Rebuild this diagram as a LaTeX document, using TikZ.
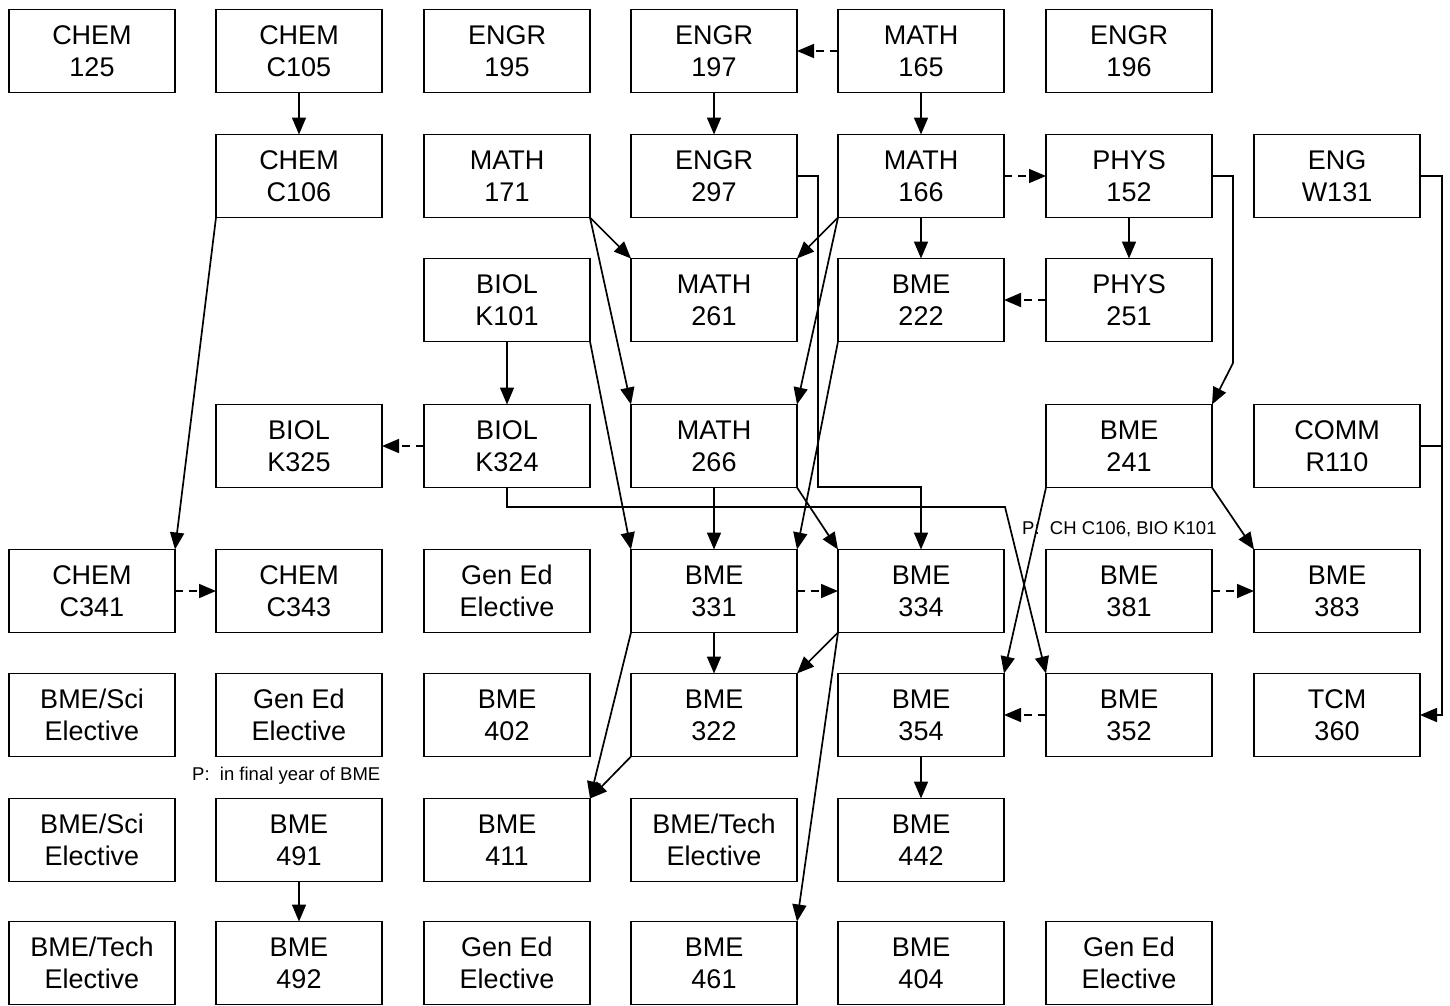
\documentclass[tikz,border=0pt]{standalone}
\usepackage{fontspec}
\setmainfont{Liberation Sans}
\usetikzlibrary{arrows.meta}
\begin{document}
\begin{tikzpicture}[x=1pt,y=-1pt,
  box/.style={draw,line width=1.9pt,minimum width=166pt,minimum height=83pt,inner sep=0pt,outer sep=0pt,align=center,font=\fontsize{27}{32}\selectfont},
  arr/.style={line width=1.7pt,-{Triangle[length=17pt,width=14pt]}},
  darr/.style={arr,dash pattern=on 8pt off 6pt},
  lbl/.style={font=\fontsize{18.5}{20}\selectfont,inner sep=0pt}]
\useasboundingbox (0,0) rectangle (1450,1005);
% row 1
\node[box] (c125) at (92,51) {CHEM\\125};
\node[box] (c105) at (299,51) {CHEM\\C105};
\node[box] (e195) at (507,51) {ENGR\\195};
\node[box] (e197) at (714,51) {ENGR\\197};
\node[box] (m165) at (921,51) {MATH\\165};
\node[box] (e196) at (1129,51) {ENGR\\196};
% row 2
\node[box] (c106) at (299,176) {CHEM\\C106};
\node[box] (m171) at (507,176) {MATH\\171};
\node[box] (e297) at (714,176) {ENGR\\297};
\node[box] (m166) at (921,176) {MATH\\166};
\node[box] (p152) at (1129,176) {PHYS\\152};
\node[box] (w131) at (1337,176) {ENG\\W131};
% row 3
\node[box] (k101) at (507,300) {BIOL\\K101};
\node[box] (m261) at (714,300) {MATH\\261};
\node[box] (b222) at (921,300) {BME\\222};
\node[box] (p251) at (1129,300) {PHYS\\251};
% row 4
\node[box] (k325) at (299,446) {BIOL\\K325};
\node[box] (k324) at (507,446) {BIOL\\K324};
\node[box] (m266) at (714,446) {MATH\\266};
\node[box] (b241) at (1129,446) {BME\\241};
\node[box] (r110) at (1337,446) {COMM\\R110};
% row 5
\node[box] (c341) at (92,591) {CHEM\\C341};
\node[box] (c343) at (299,591) {CHEM\\C343};
\node[box] (ge1) at (507,591) {Gen Ed\\Elective};
\node[box] (b331) at (714,591) {BME\\331};
\node[box] (b334) at (921,591) {BME\\334};
\node[box] (b381) at (1129,591) {BME\\381};
\node[box] (b383) at (1337,591) {BME\\383};
% row 6
\node[box] (se1) at (92,715) {BME/Sci\\Elective};
\node[box] (ge2) at (299,715) {Gen Ed\\Elective};
\node[box] (b402) at (507,715) {BME\\402};
\node[box] (b322) at (714,715) {BME\\322};
\node[box] (b354) at (921,715) {BME\\354};
\node[box] (b352) at (1129,715) {BME\\352};
\node[box] (t360) at (1337,715) {TCM\\360};
% row 7
\node[box] (se2) at (92,840) {BME/Sci\\Elective};
\node[box] (b491) at (299,840) {BME\\491};
\node[box] (b411) at (507,840) {BME\\411};
\node[box] (te1) at (714,840) {BME/Tech\\Elective};
\node[box] (b442) at (921,840) {BME\\442};
% row 8
\node[box] (te2) at (92,963) {BME/Tech\\Elective};
\node[box] (b492) at (299,963) {BME\\492};
\node[box] (ge3) at (507,963) {Gen Ed\\Elective};
\node[box] (b461) at (714,963) {BME\\461};
\node[box] (b404) at (921,963) {BME\\404};
\node[box] (ge4) at (1129,963) {Gen Ed\\Elective};
% labels
\node[lbl,anchor=west] (lab1) at (1022,529) {P:\ \ CH C106, BIO K101};
\node[lbl,anchor=west] (lab2) at (192,776) {P:\ \ in final year of BME};
% connectors
\draw[darr] (m165.west) -- (e197.east);
\draw[arr] (c105.south) -- (c106.north);
\draw[arr] (e197.south) -- (e297.north);
\draw[arr] (m165.south) -- (m166.north);
\draw[darr] (m166.east) -- (p152.west);
\draw[arr] (e297.east) -- (818,176) -- (818,487) -- (921,487) -- (b334.north);
\draw[arr] (m171.south east) -- (m261.north west);
\draw[arr] (m171.south east) -- (m266.north west);
\draw[arr] (m166.south west) -- (m261.north east);
\draw[arr] (m166.south west) -- (m266.north east);
\draw[arr] (m166.south) -- (b222.north);
\draw[arr] (p152.south) -- (p251.north);
\draw[darr] (p251.west) -- (b222.east);
\draw[arr] (p152.east) -- (1233,176) -- (1233,363) -- (b241.north east);
\draw[arr] (w131.east) -- (1442,176) -- (1442,715) -- (t360.east);
\draw[line width=1.7pt] (r110.east) -- (1442,446);
\draw[arr] (k101.south) -- (k324.north);
\draw[darr] (k324.west) -- (k325.east);
\draw[arr] (k324.south) -- (507,507) -- (1005,507) -- (b352.north west);
\draw[arr] (k101.south east) -- (b331.north west);
\draw[arr] (m266.south) -- (b331.north);
\draw[arr] (m266.south east) -- (b334.north west);
\draw[arr] (b222.south west) -- (b331.north east);
\draw[arr] (c106.south west) -- (c341.north east);
\draw[darr] (c341.east) -- (c343.west);
\draw[darr] (b331.east) -- (b334.west);
\draw[darr] (b381.east) -- (b383.west);
\draw[arr] (b241.south east) -- (b383.north west);
\draw[arr] (b241.south west) -- (b354.north east);
\draw[arr] (b331.south) -- (b322.north);
\draw[arr] (b334.south west) -- (b322.north east);
\draw[arr] (b331.south west) -- (b411.north east);
\draw[arr] (b322.south west) -- (b411.north east);
\draw[arr] (b334.south west) -- (b461.north east);
\draw[darr] (b352.west) -- (b354.east);
\draw[arr] (b354.south) -- (b442.north);
\draw[arr] (b491.south) -- (b492.north);
\end{tikzpicture}
\end{document}
